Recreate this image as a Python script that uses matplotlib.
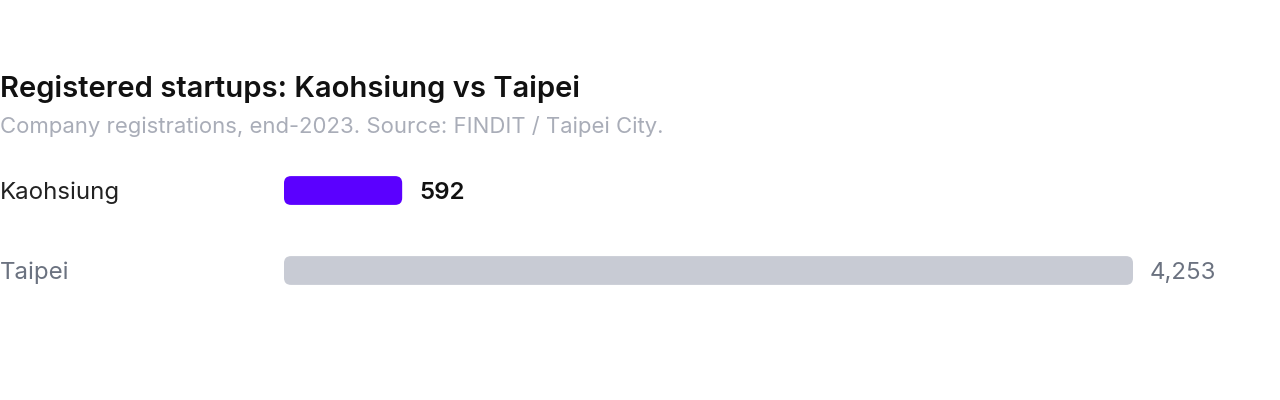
import matplotlib
matplotlib.use("Agg")
import matplotlib.pyplot as plt
import matplotlib.transforms as mtransforms
from matplotlib.patches import FancyBboxPatch

cities = ["Kaohsiung", "Taipei"]
startups = [592, 4253]
value_labels = ["592", "4,253"]

title = "Registered startups: Kaohsiung vs Taipei"
subtitle = "Company registrations, end-2023. Source: FINDIT / Taipei City."

bar_colors = ["#5B00FF", "#C8CBD4"]
label_colors = ["#222222", "#6B7280"]
value_colors = ["#111111", "#6B7280"]
value_weights = ["semibold", "normal"]

W, H = 1280, 400
plt.rcParams["font.family"] = ["Inter", "DejaVu Sans"]

fig = plt.figure(figsize=(W / 100, H / 100), dpi=100)
fig.patch.set_facecolor("white")

# axes in pixels: bars start at x=284, full scale ends at x=1133; rows 80px apart
left, right = 284, 1133
top, bottom = 150.5, 310.5
ax = fig.add_axes([left / W, 1 - bottom / H, (right - left) / W, (bottom - top) / H])
ax.set_xlim(0, max(startups))
ax.set_ylim(1.5, -0.5)
ax.axis("off")

bars = ax.barh(range(len(cities)), startups, height=0.36)

# rounded corners, radius in pixels converted to data units
x_per_px = max(startups) / (right - left)
y_per_px = 2.0 / (bottom - top)
radius = 7
for bar, color in zip(bars, bar_colors):
    x, y = bar.get_x(), bar.get_y()
    w, h = bar.get_width(), bar.get_height()
    bar.remove()
    patch = FancyBboxPatch((x, y), w, h,
                           boxstyle=f"round,pad=0,rounding_size={radius * x_per_px}",
                           mutation_aspect=y_per_px / x_per_px,
                           facecolor=color, edgecolor="none")
    ax.add_patch(patch)

# category labels at the left edge of the figure
lab_trans = mtransforms.blended_transform_factory(fig.transFigure, ax.transData)
for i, (name, c) in enumerate(zip(cities, label_colors)):
    ax.text(0.0, i, name, transform=lab_trans, ha="left", va="center_baseline",
            fontsize=17.3, color=c)

# values after the bars
offset = mtransforms.offset_copy(ax.transData, fig=fig, x=17, y=0, units="dots")
for i, (v, lab) in enumerate(zip(startups, value_labels)):
    ax.text(v, i, lab, transform=offset, ha="left", va="center_baseline",
            fontsize=17.3, color=value_colors[i], fontweight=value_weights[i])

fig.text(0.0, 1 - 97 / H, title, ha="left", va="baseline",
         fontsize=21, fontweight="semibold", color="#111111")
fig.text(0.0, 1 - 133 / H, subtitle, ha="left", va="baseline",
         fontsize=15.9, color="#A9ADB8")

fig.savefig("out.png", dpi=100, facecolor="white")
